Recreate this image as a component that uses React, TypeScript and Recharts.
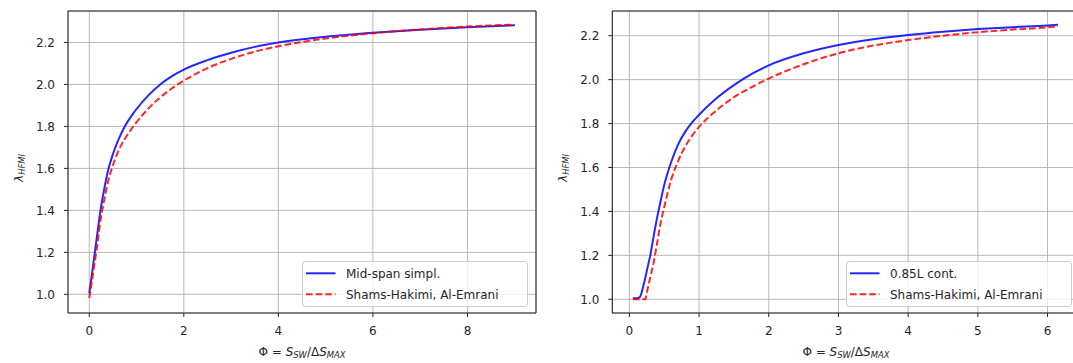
import {
  CartesianGrid,
  Label,
  Line,
  LineChart,
  ReferenceArea,
  XAxis,
  YAxis,
} from "recharts";

// left panel: mid-span simplified model vs Shams-Hakimi / Al-Emrani
const LEFT_PHI = [
  0, 0.05, 0.1, 0.15, 0.2, 0.25, 0.3, 0.4, 0.5, 0.6, 0.75, 0.9, 1.0, 1.25,
  1.5, 1.75, 2.0, 2.5, 3.0, 3.5, 4.0, 5.0, 6.0, 7.0, 8.0, 9.0,
];
const LEFT_MIDSPAN = [
  1.005, 1.085, 1.17, 1.255, 1.34, 1.418, 1.482, 1.592, 1.668, 1.728, 1.8,
  1.853, 1.883, 1.948, 2.0, 2.04, 2.071, 2.116, 2.151, 2.179, 2.2, 2.227,
  2.246, 2.261, 2.273, 2.282,
];
const LEFT_SHAMS = [
  0.982, 1.055, 1.13, 1.205, 1.29, 1.37, 1.43, 1.54, 1.615, 1.675, 1.74, 1.79,
  1.82, 1.885, 1.938, 1.982, 2.018, 2.078, 2.122, 2.156, 2.182, 2.219, 2.244,
  2.262, 2.276, 2.285,
];

// right panel: 0.85L continuous model vs Shams-Hakimi / Al-Emrani
const RIGHT_PHI = [
  0.05, 0.1, 0.15, 0.2, 0.23, 0.25, 0.3, 0.35, 0.4, 0.45, 0.5, 0.6, 0.7, 0.8,
  0.9, 1.0, 1.25, 1.5, 1.75, 2.0, 2.5, 3.0, 3.5, 4.0, 4.5, 5.0, 5.5, 6.0, 6.15,
];
const RIGHT_CONT = [
  1.005, 1.005, 1.01, 1.06, 1.1, 1.13, 1.2, 1.29, 1.375, 1.45, 1.52, 1.625,
  1.705, 1.762, 1.805, 1.84, 1.915, 1.975, 2.025, 2.065, 2.12, 2.158, 2.184,
  2.203, 2.218, 2.23, 2.239, 2.246, 2.25,
];
const RIGHT_SHAMS = [
  1.0, 1.0, 1.0, 1.0, 1.0, 1.03, 1.1, 1.17, 1.26, 1.35, 1.42, 1.545, 1.63,
  1.695, 1.745, 1.785, 1.86, 1.92, 1.965, 2.005, 2.07, 2.12, 2.155, 2.18, 2.2,
  2.216, 2.228, 2.238, 2.244,
];

const LEFT_X_TICKS = [0, 2, 4, 6, 8];
const RIGHT_X_TICKS = [0, 1, 2, 3, 4, 5, 6];
const Y_TICKS = [1.0, 1.2, 1.4, 1.6, 1.8, 2.0, 2.2];

const LEFT_NAMES = ["Mid-span simpl.", "Shams-Hakimi, Al-Emrani"];
const RIGHT_NAMES = ["0.85L cont.", "Shams-Hakimi, Al-Emrani"];

const FONT = "DejaVu Sans, sans-serif";
const TEXT = "#262626";
const BLUE = "#0000ff";
const RED = "#ff0000";
const DASH = "6.7 2.9";

function XLabel({ viewBox }: any) {
  const cx = viewBox.x + viewBox.width / 2;
  const y = viewBox.y + 42.5;
  return (
    <text
      x={cx}
      y={y}
      textAnchor="middle"
      fontFamily={FONT}
      fontSize={12}
      fill={TEXT}
    >
      <tspan>Φ = </tspan>
      <tspan fontStyle="italic">S</tspan>
      <tspan fontStyle="italic" fontSize={8.4} dy={2.5}>
        SW
      </tspan>
      <tspan dy={-2.5}>/Δ</tspan>
      <tspan fontStyle="italic">S</tspan>
      <tspan fontStyle="italic" fontSize={8.4} dy={2.5}>
        MAX
      </tspan>
    </text>
  );
}

function YLabel({ viewBox }: any) {
  const x = viewBox.x + viewBox.width - 45.5;
  const y = viewBox.y + viewBox.height / 2 + 6;
  return (
    <text
      x={x}
      y={y}
      transform={`rotate(-90, ${x}, ${y})`}
      textAnchor="middle"
      fontFamily={FONT}
      fontSize={12}
      fill={TEXT}
    >
      <tspan fontStyle="italic">λ</tspan>
      <tspan fontStyle="italic" fontSize={8.4} dy={2.5}>
        HFMI
      </tspan>
    </text>
  );
}

function LegendBox({ x, y, names }: { x: number; y: number; names: string[] }) {
  const w = 226;
  const h = 46;
  return (
    <svg
      style={{ position: "absolute", left: x, top: y }}
      width={w}
      height={h}
    >
      <rect
        x={0.5}
        y={0.5}
        width={w - 1}
        height={h - 1}
        rx={3}
        fill="rgba(255,255,255,0.8)"
        stroke="#cccccc"
      />
      <line
        x1={4}
        x2={33.5}
        y1={12.3}
        y2={12.3}
        stroke={BLUE}
        strokeOpacity={0.85}
        strokeWidth={2}
      />
      <text
        x={44}
        y={12.3}
        dy="0.36em"
        fontFamily={FONT}
        fontSize={12}
        fill={TEXT}
      >
        {names[0]}
      </text>
      <line
        x1={4}
        x2={33.5}
        y1={33.3}
        y2={33.3}
        stroke={RED}
        strokeOpacity={0.85}
        strokeWidth={2}
        strokeDasharray={DASH}
      />
      <text
        x={44}
        y={33.3}
        dy="0.36em"
        fontFamily={FONT}
        fontSize={12}
        fill={TEXT}
      >
        {names[1]}
      </text>
    </svg>
  );
}

type PanelProps = {
  left: number;
  width: number;
  axisWidth: number;
  marginRight: number;
  data: { phi: number; model: number; ref: number }[];
  xDomain: [number, number];
  xTicks: number[];
  yDomain: [number, number];
  names: string[];
};

function Panel({
  left,
  width,
  axisWidth,
  marginRight,
  data,
  xDomain,
  xTicks,
  yDomain,
  names,
}: PanelProps) {
  const tick = { fill: TEXT, fontSize: 12, fontFamily: FONT };
  return (
    <div style={{ position: "absolute", left, top: 0 }}>
      <LineChart
        width={width}
        height={363}
        data={data}
        margin={{ top: 11, right: marginRight, bottom: 0, left: 0 }}
      >
        <CartesianGrid stroke="#b0b0b0" strokeWidth={0.9} />
        <XAxis
          dataKey="phi"
          type="number"
          domain={xDomain}
          allowDataOverflow
          ticks={xTicks}
          height={50}
          tick={tick}
          tickSize={4}
          tickMargin={9}
          tickLine={{ stroke: TEXT }}
          axisLine={false}
        >
          <Label content={XLabel} />
        </XAxis>
        <YAxis
          type="number"
          domain={yDomain}
          allowDataOverflow
          ticks={Y_TICKS}
          width={axisWidth}
          tick={tick}
          tickSize={4}
          tickMargin={9}
          tickLine={{ stroke: TEXT }}
          axisLine={false}
          tickFormatter={(v) => Number(v).toFixed(1)}
        >
          <Label content={YLabel} />
        </YAxis>
        <Line
          type="monotone"
          dataKey="model"
          name={names[0]}
          stroke={BLUE}
          strokeOpacity={0.85}
          strokeWidth={2}
          dot={false}
          isAnimationActive={false}
        />
        <Line
          type="monotone"
          dataKey="ref"
          name={names[1]}
          stroke={RED}
          strokeOpacity={0.85}
          strokeWidth={2}
          strokeDasharray={DASH}
          dot={false}
          isAnimationActive={false}
        />
        <ReferenceArea
          x1={xDomain[0]}
          x2={xDomain[1]}
          y1={yDomain[0]}
          y2={yDomain[1]}
          fill="none"
          stroke="#222"
          strokeWidth={1}
          ifOverflow="visible"
        />
      </LineChart>
    </div>
  );
}

export default function App() {
  const leftData = LEFT_PHI.map((phi, i) => ({
    phi,
    model: LEFT_MIDSPAN[i],
    ref: LEFT_SHAMS[i],
  }));
  const rightData = RIGHT_PHI.map((phi, i) => ({
    phi,
    model: RIGHT_CONT[i],
    ref: RIGHT_SHAMS[i],
  }));

  return (
    <div
      style={{
        position: "absolute",
        left: 0,
        top: 0,
        width: 1073,
        height: 363,
        overflow: "hidden",
        background: "#fff",
      }}
    >
      <Panel
        left={0}
        width={540}
        axisWidth={68}
        marginRight={4}
        data={leftData}
        xDomain={[-0.45, 9.45]}
        xTicks={LEFT_X_TICKS}
        yDomain={[0.911, 2.35]}
        names={LEFT_NAMES}
      />
      <Panel
        left={540}
        width={545}
        axisWidth={72.3}
        marginRight={5.4}
        data={rightData}
        xDomain={[-0.245, 6.46]}
        xTicks={RIGHT_X_TICKS}
        yDomain={[0.9375, 2.3125]}
        names={RIGHT_NAMES}
      />
      <LegendBox x={301.7} y={261} names={LEFT_NAMES} />
      <LegendBox x={845.7} y={260.7} names={RIGHT_NAMES} />
    </div>
  );
}
